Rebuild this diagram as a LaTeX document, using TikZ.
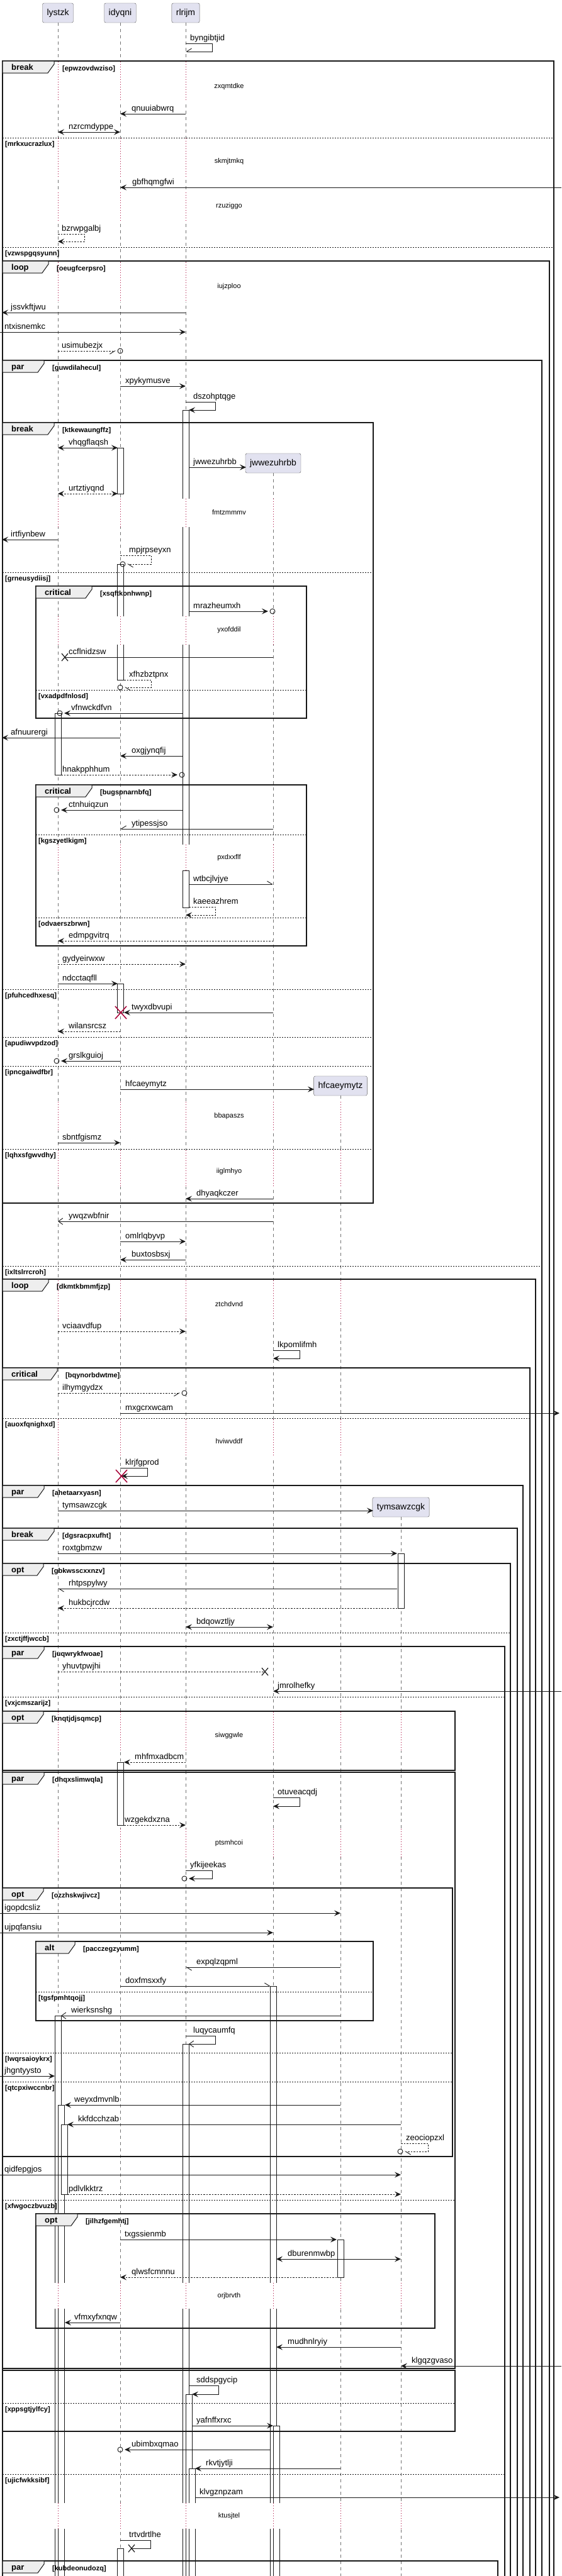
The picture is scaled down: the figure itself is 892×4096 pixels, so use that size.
\documentclass[tikz,border=0pt]{standalone}
\usepackage{fontspec}
\setmainfont{Liberation Sans}
\usetikzlibrary{arrows.meta}

\definecolor{partfill}{HTML}{E2E2F0}
\definecolor{tabfill}{HTML}{EEEEEE}
\definecolor{delayred}{HTML}{A80036}
\definecolor{inkc}{HTML}{181818}

%% lifeline positions
\newcommand*{\xlys}{92}
\newcommand*{\xidy}{191}
\newcommand*{\xrlr}{295}
\newcommand*{\xjww}{434}
\newcommand*{\xhfc}{541}
\newcommand*{\xtym}{637}

\tikzset{
  part/.style={draw=inkc!70,fill=partfill,rounded corners=2.5pt,minimum height=31pt,
    inner xsep=7pt,inner ysep=0pt,font=\fontsize{14}{16}\selectfont},
  life/.style={draw=black!55,line width=0.6pt,dash pattern=on 5pt off 5pt},
  act/.style={draw=inkc,fill=white,line width=0.7pt},
  msg/.style={draw=inkc,line width=0.9pt},
  lbl/.style={anchor=base west,inner sep=0pt,font=\fontsize{13}{15}\selectfont},
  fil/.style={-{Stealth[length=10pt,width=9pt,inset=4pt]}},
  bid/.style={{Stealth[length=10pt,width=9pt,inset=4pt]}-{Stealth[length=10pt,width=9pt,inset=4pt]}},
  opn/.style={-{Straight Barb[length=7pt,width=10pt]}},
  hlfL/.style={-{Straight Barb[left,length=8pt,width=10pt]}},
  hlfR/.style={-{Straight Barb[right,length=8pt,width=10pt]}},
  dsh/.style={dash pattern=on 2.5pt off 2pt},
  crc/.style={shorten >=7pt},
  frm/.style={draw=inkc,line width=1.5pt},
  tabsh/.style={draw=inkc,fill=tabfill,line width=1pt},
  kw/.style={anchor=base west,inner sep=0pt,font=\bfseries\fontsize{13}{15}\selectfont},
  cond/.style={anchor=base west,inner sep=0pt,font=\bfseries\fontsize{11}{13}\selectfont},
  sepln/.style={draw=inkc,line width=0.8pt,dash pattern=on 2pt off 2pt},
  dlyln/.style={draw=delayred,line width=0.8pt,dash pattern=on 1pt off 3pt},
  dlytxt/.style={inner sep=0pt,font=\fontsize{11}{13}\selectfont},
  dstr/.style={draw=delayred,line width=1.5pt},
}

\newcounter{msgc}
%% message: style, x from, x to, y, label x, text
\newcommand{\msgline}[6]{%
  \stepcounter{msgc}%
  \coordinate (m\themsgc a) at (#2,#4);
  \coordinate (m\themsgc b) at (#3,#4);
  \draw[msg,#1] (m\themsgc a) -- (m\themsgc b);
  \node[lbl] (m\themsgc t) at (#5,#4-5) {#6};
}
%% self message: style, x from, x right, y top, y bottom, x end, label x, text
\newcommand{\selfl}[8]{%
  \stepcounter{msgc}%
  \coordinate (m\themsgc a) at (#2,#4);
  \coordinate (m\themsgc b) at (#6,#5);
  \draw[msg,#1] (m\themsgc a) -- (#3,#4) -- (#3,#5) -- (m\themsgc b);
  \node[lbl] (m\themsgc t) at (#7,#4-5) {#8};
}
\newcommand{\tipcirc}{\draw[msg] (m\themsgc b) circle[radius=4pt];}
\newcommand{\lostx}[2]{\draw[msg,line width=1.2pt] (#1-5,#2-6) -- (#1+5,#2+6) (#1-5,#2+6) -- (#1+5,#2-6);}
\newcommand{\destroy}[2]{\draw[dstr] (#1-9,#2-10) -- (#1+9,#2+10) (#1-9,#2+10) -- (#1+9,#2-10);}
\newcommand{\actbar}[3]{\draw[act] (#1-5,#2) rectangle (#1+5,#3);}
%% group frame: name, x0, y0, x1, y1, keyword, tab width, condition
\newcommand{\grp}[8]{%
  \draw[frm] (#2,#3) rectangle (#4,#5);
  \draw[tabsh] (#2,#3) -- (#2+#7,#3) -- (#2+#7,#3+5) -- (#2+#7-10,#3+19) -- (#2,#3+19) -- cycle;
  \node[kw] (#1) at (#2+14,#3+14.5) {#6};
  \node[cond] (#1c) at (#2+#7+13,#3+15) {[#8]};
}
%% else line: name, x0, x1, y, condition
\newcommand{\elsep}[5]{%
  \draw[sepln] (#2,#4) -- (#3,#4);
  \node[cond] (#1) at (#2+4,#4+13) {[#5]};
}
%% delay: name, y start, y end, y text, text, lifelines
\newcommand{\dly}[6]{%
  \fill[white] (80,#2) rectangle (650,#3);
  \foreach \lfx in {#6} {\draw[dlyln] (\lfx,#2) -- (\lfx,#3);}
  \node[dlytxt] (#1) at (364,#4) {#5};
}

\begin{document}
\begin{tikzpicture}[x=1pt,y=-1pt]
    \useasboundingbox (0,0) rectangle (892,4096);
    \clip (0,0) rectangle (892,4096);
    %% participants
    \node[part] (lystzk) at (\xlys,20.5) {lystzk};
    \node[part] (idyqni) at (\xidy,20.5) {idyqni};
    \node[part] (rlrijm) at (\xrlr,20.5) {rlrijm};
    \node[part] (jwwezuhrbb) at (\xjww,736.5) {jwwezuhrbb};
    \node[part] (hfcaeymytz) at (\xhfc,1726.5) {hfcaeymytz};
    \node[part] (tymsawzcgk) at (\xtym,2396.5) {tymsawzcgk};
    %% lifelines
    \foreach \p in {lystzk,idyqni,rlrijm,jwwezuhrbb,hfcaeymytz,tymsawzcgk}
        \draw[life] (\p.south) -- (\p.south |- 0,4110);
    %% activations
    \actbar{\xidy}{712}{785}
    \actbar{\xrlr}{652}{1343}
    \actbar{\xidy}{897}{1081}
    \actbar{\xlys}{1134}{1232}
    \actbar{\xrlr}{1384}{1443}
    \actbar{\xidy}{1564}{1610}
    \actbar{\xtym}{2470}{2557}
    \actbar{\xidy}{2802}{2902}
    \actbar{\xjww}{3158}{4110}
    \actbar{\xlys}{3205}{4110}
    \actbar{\xrlr}{3250}{4110}
    \actbar{97.5}{3347}{4110}
    \actbar{102}{3378}{3489}
    \actbar{\xhfc}{3561}{3621}
    \actbar{300}{3807}{4110}
    \actbar{439}{3857}{4110}
    \actbar{305}{3925}{4110}
    \actbar{\xidy}{4052}{4110}
    %% delays
    \dly{d1}{98}{162}{138}{zxqmtdke}{92,191,295}
    \dly{d2}{220}{281}{257}{skmjtmkq}{92,191,295}
    \dly{d3}{306}{352}{328}{rzuziggo}{92,191,295}
    \dly{d4}{417}{480}{456}{iujzploo}{92,191,295}
    \dly{d5}{793}{838}{815}{fmtzmmmv}{92,191,295,434}
    \dly{d6}{980}{1025}{1002}{yxofddil}{92,191,295,434}
    \dly{d7}{1343}{1384}{1364}{pxdxxflf}{92,191,295,434}
    \dly{d8}{1752}{1798}{1775}{bbapaszs}{92,191,295,434,541}
    \dly{d9}{1829}{1887}{1863}{iiglmhyo}{92,191,295,434,541}
    \dly{d10}{2036}{2097}{2074}{ztchdvnd}{92,191,295,434,541}
    \dly{d11}{2257}{2317}{2292}{hviwvddf}{92,191,295,434,541}
    \dly{d12}{2722}{2784}{2760}{siwggwle}{92,191,295,434,541,637}
    \dly{d13}{2908}{2953}{2931}{ptsmhcoi}{92,191,295,434,541,637}
    \dly{d14}{3630}{3671}{3651}{orjbrvth}{92,191,295,434,541,637}
    \dly{d15}{3980}{4021}{4001}{ktusjtel}{92,191,295,434,541,637}
    %% frames
    \grp{f1}{4}{97}{880}{4110}{break}{82}{epwzovdwziso}
    \elsep{s1}{4}{880}{219}{mrkxucrazlux}
    \elsep{s2}{4}{880}{393}{vzwspgqsyunn}
    \grp{f2}{4}{415}{873}{4110}{loop}{73}{oeugfcerpsro}
    \grp{f3}{4}{573}{861}{4110}{par}{66}{guwdilahecul}
    \elsep{s3}{4}{861}{2013}{ixltslrrcroh}
    \grp{f4}{4}{672}{593}{1913}{break}{82}{ktkewaungffz}
    \elsep{s4}{4}{593}{910}{grneusydiisj}
    \elsep{s5}{4}{593}{1573}{pfuhcedhxesq}
    \elsep{s6}{4}{593}{1649}{apudiwvpdzod}
    \elsep{s7}{4}{593}{1695}{ipncgaiwdfbr}
    \elsep{s8}{4}{593}{1827}{lqhxsfgwvdhy}
    \grp{f5}{57}{932}{487}{1142}{critical}{89}{xsqftkonhwnp}
    \elsep{s9}{57}{487}{1097}{vxadpdfnlosd}
    \grp{f6}{57}{1248}{487}{1504}{critical}{89}{bugspnarnbfq}
    \elsep{s10}{57}{487}{1327}{kgszyetlkigm}
    \elsep{s11}{57}{487}{1459}{odvaerszbrwn}
    \grp{f7}{4}{2034}{851}{4110}{loop}{73}{dkmtkbmmfjzp}
    \grp{f8}{4}{2175}{842}{4110}{critical}{87}{bqynorbdwtme}
    \elsep{s12}{4}{842}{2255}{auoxfqnighxd}
    \grp{f9}{4}{2362}{831}{4110}{par}{66}{ahetaarxyasn}
    \grp{f10}{4}{2430}{822}{4110}{break}{82}{dgsracpxufht}
    \grp{f11}{4}{2486}{811}{4110}{opt}{65}{gbkwsscxxnzv}
    \elsep{s13}{4}{811}{2596}{zxctjffjwccb}
    \grp{f12}{4}{2618}{802}{4110}{par}{66}{juqwrykfwoae}
    \elsep{s14}{4}{802}{2698}{vxjcmszarijz}
    \elsep{s15}{4}{802}{3934}{ujicfwkksibf}
    \grp{f13}{4}{2721}{723}{2815}{opt}{65}{knqtjdjsqmcp}
    \grp{f14}{4}{2818}{723}{3766}{par}{66}{dhqxslimwqla}
    \elsep{s16}{4}{723}{3498}{xfwgoczbvuzb}
    \grp{f15}{4}{3002}{719}{3429}{opt}{65}{ozzhskwjivcz}
    \elsep{s17}{4}{719}{3264}{lwqrsaioykrx}
    \elsep{s18}{4}{719}{3310}{qtcpxiwccnbr}
    \grp{f16}{57}{3087}{593}{3213}{alt}{62}{pacczegzyumm}
    \elsep{s19}{57}{593}{3167}{tgsfpmhtqojj}
    \grp{f17}{57}{3520}{691}{3702}{opt}{66}{jilhzfgemhtj}
    \draw[frm] (4,3769) rectangle (723,3866);
    \elsep{s20}{4}{723}{3821}{xppsgtjylfcy}
    \grp{f19}{4}{4072}{791}{4110}{par}{66}{kubdeonudozq}
    %% messages
    \selfl{hlfR}{\xrlr}{337}{69}{82}{\xrlr}{302}{byngibtjid}
    \msgline{fil}{\xrlr}{\xidy}{181}{209}{qnuuiabwrq}
    \msgline{bid}{\xlys}{\xidy}{210}{109}{nzrcmdyppe}
    \msgline{fil}{892}{\xidy}{298}{210}{gbfhqmgfwi}
    \selfl{dsh,fil}{\xlys}{134}{372}{384}{\xlys}{98}{bzrwpgalbj}
    \msgline{fil}{\xrlr}{3}{497}{17}{jssvkftjwu}
    \msgline{fil}{0}{\xrlr}{528}{7}{ntxisnemkc}
    \msgline{dsh,hlfR,crc}{\xlys}{\xidy}{558}{98}{usimubezjx}\tipcirc
    \msgline{fil}{\xidy}{\xrlr}{614}{199}{xpykymusve}
    \selfl{fil}{\xrlr}{342}{639}{652}{300}{307}{dszohptqge}
    \msgline{bid}{\xlys}{187}{712}{109}{vhqgflaqsh}
    \msgline{fil}{300}{391}{743}{307}{jwwezuhrbb}
    \msgline{dsh,bid}{\xlys}{187}{785}{109}{urtztiyqnd}
    \msgline{fil}{\xlys}{3}{858}{17}{irtfiynbew}
    \selfl{dsh,hlfL,crc}{\xidy}{240}{883}{897}{195}{205}{mpjrpseyxn}\tipcirc
    \msgline{fil,crc}{300}{433}{972}{307}{mrazheumxh}\tipcirc
    \msgline{}{\xjww}{103}{1045}{109}{ccflnidzsw}\lostx{103}{1045}
    \selfl{dsh,hlfL,crc}{197}{240}{1081}{1093}{\xidy}{205}{xfhzbztpnx}\tipcirc
    \msgline{fil,crc}{290}{95}{1134}{113}{vfnwckdfvn}\tipcirc
    \msgline{fil}{\xidy}{3}{1173}{17}{afnuurergi}
    \msgline{fil}{290}{\xidy}{1202}{209}{oxgjynqfij}
    \msgline{dsh,fil,crc}{97}{289}{1232}{99}{hnakpphhum}\tipcirc
    \msgline{fil,crc}{290}{90}{1288}{109}{ctnhuiqzun}\tipcirc
    \msgline{hlfR}{\xjww}{\xidy}{1318}{209}{ytipessjso}
    \msgline{hlfL}{300}{\xjww}{1406}{307}{wtbcjlvjye}
    \selfl{dsh,fil}{300}{342}{1442}{1455}{\xrlr}{307}{kaeeazhrem}
    \msgline{dsh,fil}{\xjww}{\xlys}{1496}{109}{edmpgvitrq}
    \msgline{dsh,fil}{\xlys}{\xrlr}{1533}{99}{gydyeirwxw}
    \msgline{fil}{\xlys}{187}{1564}{99}{ndcctaqfll}
    \msgline{fil}{\xjww}{197}{1610}{209}{twyxdbvupi}\destroy{192}{1610}
    \msgline{dsh,fil}{\xidy}{\xlys}{1640}{109}{wilansrcsz}
    \msgline{fil,crc}{\xidy}{90}{1687}{109}{grslkguioj}\tipcirc
    \msgline{fil}{\xidy}{499}{1732}{199}{hfcaeymytz}
    \msgline{fil}{\xlys}{\xidy}{1817}{99}{sbntfgismz}
    \msgline{fil}{\xjww}{\xrlr}{1906}{312}{dhyaqkczer}
    \msgline{opn}{\xjww}{\xlys}{1942}{109}{ywqzwbfnir}
    \msgline{fil}{\xidy}{\xrlr}{1974}{199}{omlrlqbyvp}
    \msgline{fil}{\xrlr}{\xidy}{2003}{209}{buxtosbsxj}
    \msgline{dsh,fil}{\xlys}{\xrlr}{2117}{99}{vciaavdfup}
    \selfl{fil}{\xjww}{476}{2147}{2160}{\xjww}{441}{lkpomlifmh}
    \msgline{dsh,hlfR,crc}{\xlys}{293}{2215}{99}{ilhymgydzx}\tipcirc
    \msgline{fil}{\xidy}{889}{2247}{199}{mxgcrxwcam}
    \selfl{fil}{\xidy}{234}{2334}{2347}{193}{199}{klrjfgprod}\destroy{193}{2347}
    \msgline{fil}{\xlys}{593}{2402}{99}{tymsawzcgk}
    \msgline{fil}{\xlys}{631}{2470}{99}{roxtgbmzw}
    \msgline{hlfL}{631}{\xlys}{2526}{109}{rhtpspylwy}
    \msgline{dsh,fil}{631}{\xlys}{2557}{109}{hukbcjrcdw}
    \msgline{bid}{\xrlr}{\xjww}{2587}{312}{bdqowztljy}
    \msgline{dsh}{\xlys}{421}{2658}{99}{yhuvtpwjhi}\lostx{421}{2658}
    \msgline{fil}{892}{\xjww}{2689}{441}{jmrolhefky}
    \msgline{dsh,fil}{\xrlr}{197}{2802}{214}{mhfmxadbcm}
    \selfl{fil}{\xjww}{476}{2858}{2872}{\xjww}{441}{otuveacqdj}
    \msgline{dsh,fil}{197}{\xrlr}{2902}{198}{wzgekdxzna}
    \selfl{fil,crc}{\xrlr}{337}{2974}{2987}{293}{302}{yfkijeekas}\tipcirc
    \msgline{fil}{0}{\xhfc}{3042}{7}{igopdcsliz}
    \msgline{fil}{0}{\xjww}{3073}{7}{ujpqfansiu}
    \msgline{hlfL}{\xhfc}{\xrlr}{3128}{312}{expqlzqpml}
    \msgline{hlfL}{\xidy}{430}{3158}{199}{doxfmsxxfy}
    \msgline{opn}{\xhfc}{97}{3205}{113}{wierksnshg}
    \selfl{opn}{\xrlr}{342}{3237}{3250}{300}{307}{luqycaumfq}
    \msgline{fil}{0}{87}{3301}{7}{jhgntyysto}
    \msgline{fil}{\xhfc}{103}{3347}{118}{weyxdmvnlb}
    \msgline{fil}{\xtym}{107}{3378}{124}{kkfdcchzab}
    \selfl{dsh,hlfL,crc}{\xtym}{680}{3408}{3421}{636}{645}{zeociopzxl}\tipcirc
    \msgline{fil}{0}{\xtym}{3458}{7}{qidfepgjos}
    \msgline{dsh,fil}{107}{\xtym}{3489}{109}{pdlvlkktrz}
    \msgline{fil}{\xidy}{535}{3561}{198}{txgssienmb}
    \msgline{bid}{439}{\xtym}{3592}{457}{dburenmwbp}
    \msgline{dsh,fil}{535}{\xidy}{3621}{209}{qlwsfcmnnu}
    \msgline{fil}{\xidy}{103}{3693}{118}{vfmxyfxnqw}
    \msgline{fil}{\xtym}{439}{3732}{457}{mudhnlryiy}
    \msgline{fil}{892}{\xtym}{3762}{654}{klgqzgvaso}
    \selfl{fil}{300}{347}{3793}{3807}{305}{312}{sddspgycip}
    \msgline{fil}{305}{434}{3857}{312}{yafnffxrxc}
    \msgline{fil,crc}{430}{\xidy}{3895}{209}{ubimbxqmao}\tipcirc
    \msgline{fil}{\xhfc}{310}{3925}{327}{rkvtjytlji}
    \msgline{fil}{310}{889}{3971}{317}{klvgznpzam}
    \selfl{}{\xidy}{239}{4039}{4052}{209}{205}{trtvdrtlhe}\lostx{209}{4052}
\end{tikzpicture}
\end{document}
